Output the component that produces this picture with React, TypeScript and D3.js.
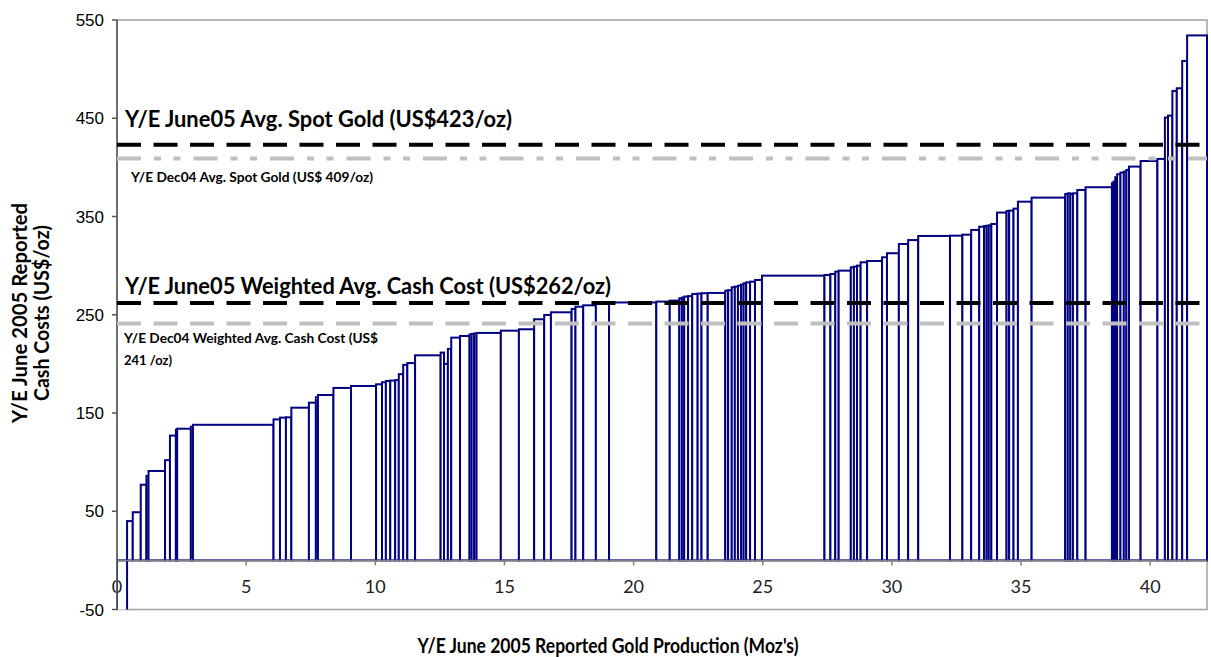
import React from "react";
import * as d3 from "d3";

// mine production (Moz) and cash cost (US$/oz), sorted along the curve
const production = [
  0.39, 0.22, 0.31, 0.22, 0.08, 0.64, 0.19, 0.23, 0.05, 0.53,
  0.08, 3.12, 0.25, 0.23, 0.21, 0.68, 0.27, 0.08, 0.6, 0.68,
  0.97, 0.23, 0.15, 0.17, 0.19, 0.14, 0.17, 0.16, 0.3, 0.99,
  0.13, 0.15, 0.13, 0.34, 0.37, 0.08, 0.1, 0.09, 0.94, 0.7,
  0.59, 0.39, 0.26, 0.8, 0.15, 0.3, 0.49, 0.51, 1.83, 0.52,
  0.37, 0.1, 0.09, 0.15, 0.16, 0.21, 0.15, 0.24, 0.68, 0.11,
  0.14, 0.12, 0.12, 0.12, 0.1, 0.1, 0.15, 0.19, 0.27, 2.42,
  0.23, 0.19, 0.13, 0.47, 0.12, 0.12, 0.14, 0.25, 0.58, 0.19,
  0.46, 0.36, 0.39, 1.23, 0.48, 0.34, 0.31, 0.19, 0.1, 0.08,
  0.1, 0.22, 0.37, 0.1, 0.17, 0.17, 0.53, 1.3, 0.1, 0.1,
  0.1, 0.17, 0.32, 1.02, 0.06, 0.07, 0.07, 0.13, 0.13, 0.1,
  0.1, 0.45, 0.65, 0.29, 0.12, 0.17, 0.17, 0.21, 0.19, 0.77,
];
const cashCost = [
  -65, 40, 49, 77, 86, 91, 102, 127, 133, 134,
  136, 138, 143.5, 145.3, 145.6, 155.4, 160.5, 166, 168.3, 175.5,
  177.5, 179.2, 181.3, 182.6, 183, 183.5, 189.5, 199, 200.8, 208.7,
  211.5, 200, 215.2, 226.7, 228.4, 230, 230.5, 231, 231.5, 233.8,
  235.2, 245.4, 249.8, 252.5, 255.9, 258.2, 259.6, 262.3, 262.5, 263.4,
  264.4, 266.8, 267.5, 268.5, 269, 271.2, 271.5, 271.9, 272.2, 274.5,
  275, 278, 278.6, 279.6, 280.7, 282, 283, 283.7, 285.4, 289.8,
  290.5, 291.5, 293.9, 294.9, 298.3, 299, 300, 303.4, 304.7, 308.5,
  312.6, 322, 326, 330.2, 330.5, 331.5, 336.3, 339.6, 340.3, 340.6,
  341, 342.4, 354, 355.6, 356, 358, 365.1, 369.2, 372.9, 373.6,
  373, 373.6, 377, 379.8, 383.8, 385.5, 390, 393, 394.7, 395.7,
  397.4, 400.8, 406.5, 408.6, 450.7, 452.7, 477.8, 480.5, 508.3, 534.3,
];

const yTicks = [550, 450, 350, 250, 150, 50, -50];
const xTicks = [0, 5, 10, 15, 20, 25, 30, 35, 40];

const spotJune05 = 423;
const spotDec04 = 409;
const avgJune05 = 262;
const avgDec04 = 241;

export default function App() {
  const left = 117;
  const right = 1207;
  const top = 20;
  const bottom = 609.5;

  const total = d3.sum(production);
  const starts = [0, ...Array.from(d3.cumsum(production))];
  const x = d3.scaleLinear().domain([0, total]).range([left, right]);
  const y = d3.scaleLinear().domain([-50, 550]).range([bottom, top]);

  const bars = production.map((p, i) => ({
    x0: starts[i],
    x1: starts[i] + p,
    v: cashCost[i],
  }));

  const bold = "'Lato', 'Open Sans', sans-serif";

  return (
    <svg
      width={1211}
      height={657}
      style={{ position: "absolute", left: 0, top: 0, background: "#fff" }}
    >
      <defs>
        <clipPath id="plot">
          <rect x={left} y={top} width={right - left + 2} height={bottom - top} />
        </clipPath>
      </defs>

      {/* plot frame */}
      <rect
        x={left}
        y={top}
        width={right - left}
        height={bottom - top}
        fill="none"
        stroke="#a0a0a0"
        strokeWidth={1.5}
      />

      {/* bars */}
      <g clipPath="url(#plot)">
        {bars.map((b, i) => (
          <rect
            key={i}
            x={x(b.x0)}
            width={x(b.x1) - x(b.x0)}
            y={y(Math.max(b.v, 0))}
            height={Math.abs(y(b.v) - y(0))}
            fill="#fff"
            stroke="#000080"
            strokeWidth={2}
          />
        ))}
      </g>

      {/* x axis at zero */}
      <line x1={left} x2={right} y1={y(0)} y2={y(0)} stroke="#808080" strokeWidth={1.5} />
      {xTicks.map((t) => (
        <g key={t}>
          {t > 0 && (
            <line x1={x(t)} x2={x(t)} y1={y(0)} y2={y(0) + 5} stroke="#808080" strokeWidth={1.5} />
          )}
          <text
            x={x(t)}
            y={y(0) + 33}
            textAnchor="middle"
            fontFamily="'Lato', sans-serif"
            fontSize={18}
            fill="#222"
          >
            {t}
          </text>
        </g>
      ))}

      {/* y axis */}
      <line x1={left} x2={left} y1={top} y2={bottom} stroke="#555" strokeWidth={1.5} />
      {yTicks.map((t) => (
        <g key={t}>
          <line x1={left - 5} x2={left} y1={y(t)} y2={y(t)} stroke="#555" strokeWidth={1.5} />
          <text
            x={104}
            y={y(t) + 6}
            textAnchor="end"
            fontFamily="'Liberation Sans', Arial, sans-serif"
            fontSize={17}
            fill="#000"
          >
            {t}
          </text>
        </g>
      ))}

      {/* reference lines */}
      <line x1={left} x2={right} y1={y(spotJune05)} y2={y(spotJune05)} stroke="#000" strokeWidth={4} strokeDasharray="24,12.5" />
      <line
        x1={left}
        x2={right}
        y1={y(spotDec04)}
        y2={y(spotDec04)}
        stroke="#c0c0c0"
        strokeWidth={4}
        strokeDasharray="24,13,7,12.5,7,13"
      />
      <line x1={left} x2={right} y1={y(avgJune05)} y2={y(avgJune05)} stroke="#000" strokeWidth={4} strokeDasharray="24,12.5" />
      <line x1={left} x2={right} y1={y(avgDec04)} y2={y(avgDec04)} stroke="#c0c0c0" strokeWidth={4} strokeDasharray="24,12.5" />

      {/* annotations */}
      <g fontFamily={bold} fontWeight="bold" fill="#000">
        <text x={125} y={127} fontSize={23} textLength={387} lengthAdjust="spacingAndGlyphs">
          Y/E June05 Avg. Spot Gold (US$423/oz)
        </text>
        <text x={131} y={182} fontSize={13.5} textLength={242} lengthAdjust="spacingAndGlyphs">
          Y/E Dec04 Avg. Spot Gold (US$ 409/oz)
        </text>
        <text x={125} y={294} fontSize={23} textLength={486} lengthAdjust="spacingAndGlyphs">
          Y/E June05 Weighted Avg. Cash Cost (US$262/oz)
        </text>
        <text x={124} y={342.5} fontSize={13.5} textLength={254} lengthAdjust="spacingAndGlyphs">
          Y/E Dec04 Weighted Avg. Cash Cost (US$
        </text>
        <text x={124} y={365} fontSize={13.5} textLength={48} lengthAdjust="spacingAndGlyphs">
          241 /oz)
        </text>
      </g>

      {/* axis titles */}
      <g fontFamily={bold} fontWeight="bold" fill="#000" fontSize={20}>
        <text
          transform="translate(27,313) rotate(-90)"
          textAnchor="middle"
          textLength={220}
          lengthAdjust="spacingAndGlyphs"
        >
          Y/E June 2005 Reported
        </text>
        <text
          transform="translate(49,313) rotate(-90)"
          textAnchor="middle"
          textLength={176}
          lengthAdjust="spacingAndGlyphs"
        >
          Cash Costs (US$/oz)
        </text>
        <text x={608} y={653} textAnchor="middle" textLength={381} lengthAdjust="spacingAndGlyphs">
          Y/E June 2005 Reported Gold Production (Moz's)
        </text>
      </g>
    </svg>
  );
}
